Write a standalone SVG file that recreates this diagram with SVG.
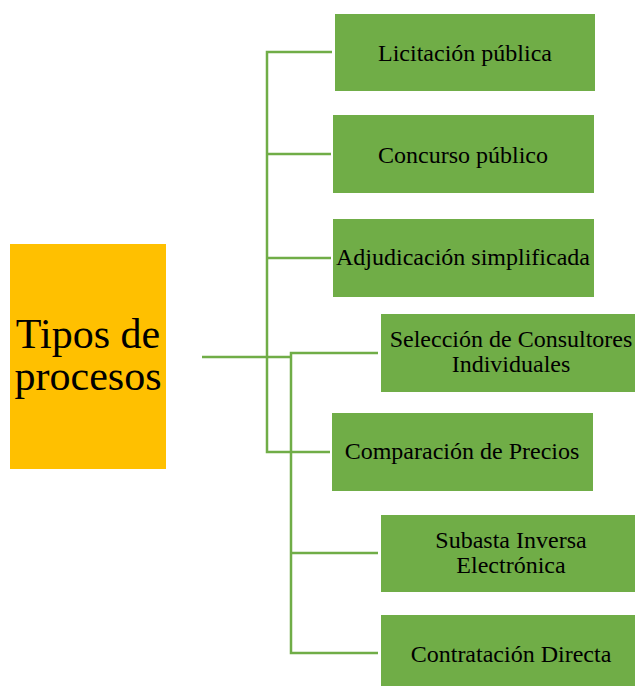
<svg xmlns="http://www.w3.org/2000/svg" width="635" height="686" viewBox="0 0 635 686">
<style>
.box{fill:#70AD47;}
.t{font-family:"Liberation Serif","Times New Roman",serif;font-size:24px;fill:#000;text-anchor:middle;}
.h{font-family:"Liberation Serif","Times New Roman",serif;font-size:42px;fill:#000;text-anchor:middle;}
.c{fill:none;stroke:#70AD47;stroke-width:2.5;}
</style>
<rect width="635" height="686" fill="#fff"/>
<g id="connectors">
<path class="c" d="M202 357 H290"/>
<path class="c" d="M332 52 H267 V452 H330"/>
<path class="c" d="M267 154 H331"/>
<path class="c" d="M267 258 H331"/>
<path class="c" d="M378 353 H291 V653 H378"/>
<path class="c" d="M291 553 H378"/>
</g>
<g id="root">
<rect x="10" y="244" width="156" height="225" fill="#FFC000"/>
<text class="h" x="88" y="348">Tipos de</text>
<text class="h" x="88" y="390">procesos</text>
</g>
<g id="n1"><rect class="box" x="335" y="14" width="260" height="77"/><text class="t" x="465" y="61">Licitación pública</text></g>
<g id="n2"><rect class="box" x="333" y="115" width="261" height="78"/><text class="t" x="463" y="163">Concurso público</text></g>
<g id="n3"><rect class="box" x="333" y="219" width="261" height="78"/><text class="t" x="463" y="265">Adjudicación simplificada</text></g>
<g id="n4"><rect class="box" x="381" y="314" width="254" height="78"/><text class="t" x="511" y="347">Selección de Consultores</text><text class="t" x="511" y="372">Individuales</text></g>
<g id="n5"><rect class="box" x="332" y="413" width="261" height="78"/><text class="t" x="462" y="459">Comparación de Precios</text></g>
<g id="n6"><rect class="box" x="381" y="515" width="254" height="77"/><text class="t" x="511" y="548">Subasta Inversa</text><text class="t" x="511" y="573">Electrónica</text></g>
<g id="n7"><rect class="box" x="381" y="615" width="254" height="71"/><text class="t" x="511" y="662">Contratación Directa</text></g>
</svg>
